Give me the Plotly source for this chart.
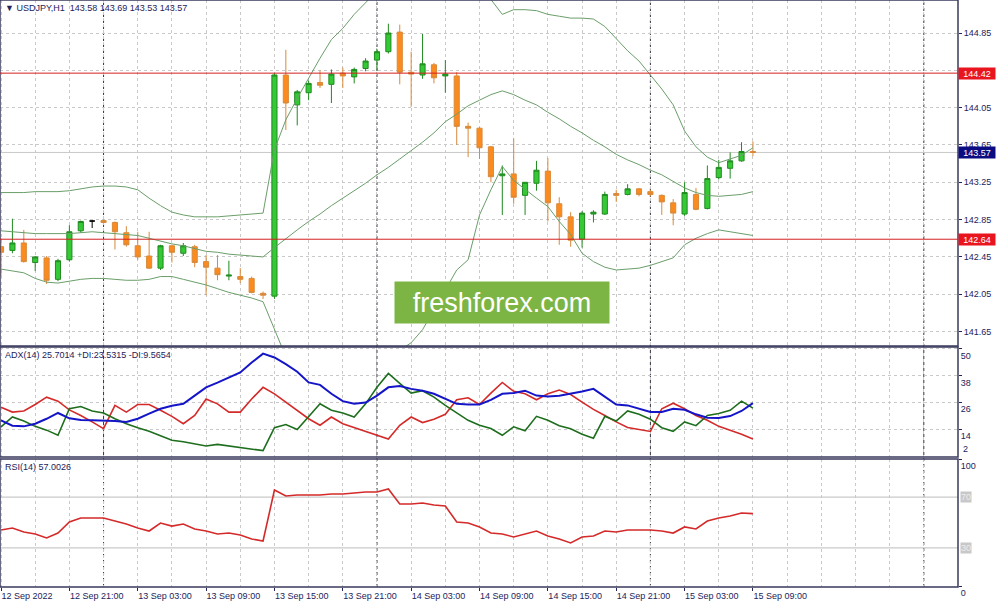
import plotly.graph_objects as go

# ---------------- data ----------------
bar_time_labels = ["12 Sep 2022", "12 Sep 21:00", "13 Sep 03:00", "13 Sep 09:00", "13 Sep 15:00",
                   "13 Sep 21:00", "14 Sep 03:00", "14 Sep 09:00", "14 Sep 15:00", "14 Sep 21:00",
                   "15 Sep 03:00", "15 Sep 09:00"]

open_ = [142.56, 142.52, 142.60, 142.39, 142.44, 142.21, 142.42, 142.73, 142.835, 142.84,
         142.82, 142.71, 142.57, 142.46, 142.33, 142.57, 142.49, 142.56, 142.40, 142.33,
         142.245, 142.24, 142.22, 142.06, 142.03, 144.40, 144.08, 144.21, 144.32, 144.30,
         144.42, 144.38, 144.47, 144.56, 144.65, 144.86, 144.43, 144.40, 144.51, 144.39,
         144.39, 143.85, 143.83, 143.63, 143.32, 143.34, 143.11, 143.24, 143.37, 143.02,
         142.88, 142.64, 142.91, 142.91, 143.13, 143.12, 143.18, 143.15, 143.11, 143.03,
         142.91, 143.12, 142.97, 143.30, 143.40, 143.48, 143.58]
high = [142.65, 142.86, 142.74, 142.46, 142.46, 142.43, 142.79, 142.84, 142.84, 142.85,
        142.83, 142.78, 142.72, 142.72, 142.58, 142.58, 142.60, 142.58, 142.47, 142.47,
        142.41, 142.33, 142.24, 142.08, 144.42, 144.67, 144.24, 144.34, 144.45, 144.46,
        144.48, 144.48, 144.58, 144.68, 144.95, 144.94, 144.65, 144.84, 144.53, 144.56,
        144.43, 143.89, 143.84, 143.64, 143.43, 143.72, 143.25, 143.48, 143.51, 143.09,
        142.93, 142.94, 142.95, 143.15, 143.17, 143.23, 143.19, 143.17, 143.12, 143.07,
        143.25, 143.19, 143.43, 143.49, 143.57, 143.68, 143.69]
low = [142.24, 142.49, 142.39, 142.30, 142.16, 142.19, 142.40, 142.71, 142.76, 142.81,
       142.53, 142.56, 142.42, 142.32, 142.31, 142.39, 142.46, 142.34, 142.04, 142.20,
       142.20, 142.17, 142.06, 142.00, 142.00, 143.81, 143.86, 144.13, 144.26, 144.10,
       144.26, 144.31, 144.44, 144.45, 144.63, 144.30, 144.06, 144.36, 144.31, 144.21,
       143.65, 143.52, 143.50, 143.25, 142.90, 143.02, 142.90, 143.16, 142.83, 142.58,
       142.56, 142.55, 142.82, 142.90, 143.04, 143.11, 143.10, 143.10, 142.90, 142.79,
       142.89, 142.95, 142.96, 143.28, 143.29, 143.47, 143.53]
close = [142.50, 142.60, 142.40, 142.45, 142.20, 142.41, 142.72, 142.83, 142.835, 142.82,
         142.72, 142.58, 142.45, 142.33, 142.57, 142.50, 142.57, 142.39, 142.34, 142.26,
         142.255, 142.21, 142.07, 142.04, 144.40, 144.10, 144.22, 144.31, 144.29, 144.41,
         144.39, 144.46, 144.55, 144.65, 144.85, 144.43, 144.41, 144.52, 144.37, 144.41,
         143.85, 143.83, 143.62, 143.31, 143.34, 143.09, 143.25, 143.38, 143.03, 142.88,
         142.63, 142.92, 142.93, 143.12, 143.11, 143.18, 143.12, 143.12, 143.04, 142.92,
         143.14, 142.96, 143.29, 143.41, 143.48, 143.58, 143.57]
black_doji_index = [8]

bb_upper = [143.14, 143.14, 143.14, 143.15, 143.15, 143.15, 143.16, 143.18, 143.20, 143.21,
            143.21, 143.20, 143.17, 143.08, 143.00, 142.93, 142.90, 142.88, 142.88, 142.88,
            142.89, 142.90, 142.91, 142.92, 143.60, 143.92, 144.15, 144.37, 144.58, 144.78,
            144.90, 145.05, 145.18, 145.30, 145.40, 145.55, 145.65, 145.70, 145.72, 145.75,
            145.80, 145.72, 145.36, 145.21, 145.05, 145.10, 145.10, 145.09, 145.05, 145.03,
            145.01, 145.01, 145.00, 144.92, 144.79, 144.66, 144.55, 144.40, 144.25, 144.08,
            143.80, 143.63, 143.52, 143.46, 143.50, 143.54, 143.62]
bb_middle = [142.73, 142.72, 142.71, 142.70, 142.70, 142.70, 142.70, 142.71, 142.72, 142.71,
             142.70, 142.69, 142.68, 142.65, 142.62, 142.59, 142.57, 142.54, 142.51, 142.50,
             142.48, 142.47, 142.46, 142.45, 142.55, 142.65, 142.74, 142.83, 142.91, 143.00,
             143.08, 143.16, 143.24, 143.33, 143.41, 143.50, 143.59, 143.68, 143.78, 143.90,
             143.98, 144.07, 144.13, 144.19, 144.23, 144.19, 144.13, 144.08, 144.00, 143.93,
             143.85, 143.78, 143.70, 143.63, 143.55, 143.49, 143.44, 143.38, 143.33, 143.26,
             143.19, 143.14, 143.11, 143.10, 143.11, 143.12, 143.15]
bb_lower = [142.32, 142.30, 142.28, 142.22, 142.18, 142.17, 142.19, 142.21, 142.22, 142.22,
            142.21, 142.20, 142.20, 142.21, 142.24, 142.24, 142.21, 142.18, 142.15, 142.11,
            142.07, 142.04, 142.01, 141.97, 141.67, 141.38, 141.33, 141.29, 141.24, 141.22,
            141.26, 141.27, 141.30, 141.36, 141.42, 141.45, 141.53, 141.67, 141.88, 142.10,
            142.31, 142.42, 142.90, 143.17, 143.42, 143.27, 143.17, 143.08, 142.99, 142.83,
            142.69, 142.49, 142.40, 142.34, 142.31, 142.32, 142.33, 142.36, 142.40, 142.44,
            142.58, 142.65, 142.70, 142.74, 142.72, 142.70, 142.68]

adx_main = [18.0, 15.6, 15.3, 16.5, 18.7, 21.3, 18.9, 18.2, 18.0, 18.0,
            17.7, 17.3, 18.7, 21.0, 23.2, 24.5, 25.4, 29.1, 32.8, 34.9,
            37.3, 39.5, 43.9, 47.9, 46.2, 43.2, 39.8, 35.0, 33.9, 29.9,
            26.6, 25.4, 26.0, 29.1, 32.8, 33.4, 32.1, 31.3, 29.9, 27.6,
            25.4, 25.1, 25.1, 27.2, 29.9, 30.3, 31.3, 29.1, 28.7, 29.0,
            29.9, 30.9, 32.1, 28.7, 25.1, 24.7, 23.2, 21.7, 21.7, 23.2,
            22.7, 20.7, 19.2, 19.0, 19.9, 22.2, 25.7]
plus_di = [15.1, 19.5, 17.7, 15.3, 13.6, 11.3, 23.2, 24.2, 22.2, 21.3,
           18.7, 16.5, 14.7, 13.1, 11.1, 9.1, 8.4, 7.6, 6.5, 7.2,
           6.5, 5.9, 5.1, 4.4, 14.7, 16.1, 13.9, 19.5, 25.4, 22.5,
           21.3, 19.5, 25.4, 32.8, 39.0, 34.6, 30.2, 31.3, 28.4, 24.7,
           21.3, 18.0, 15.8, 14.3, 11.3, 15.1, 13.3, 19.8, 18.0, 15.6,
           14.2, 11.8, 10.0, 19.8, 17.7, 22.2, 20.7, 18.5, 14.7, 13.1,
           17.3, 15.6, 20.2, 21.1, 22.5, 26.6, 23.5]
minus_di = [23.9, 21.7, 22.2, 25.1, 28.4, 26.6, 22.7, 20.2, 17.3, 14.3,
            24.7, 21.7, 25.1, 25.1, 22.5, 19.8, 16.5, 20.2, 27.6, 25.4,
            21.7, 21.7, 27.6, 32.8, 29.9, 26.2, 22.2, 18.7, 15.8, 19.5,
            16.5, 14.8, 12.8, 11.3, 9.6, 15.8, 19.5, 17.0, 18.5, 20.7,
            27.2, 28.1, 25.1, 30.2, 35.0, 31.0, 29.9, 27.2, 29.9, 31.6,
            29.6, 26.2, 22.9, 20.2, 17.3, 14.8, 13.9, 13.0, 23.2, 25.7,
            23.2, 20.2, 18.0, 15.3, 13.6, 11.8, 9.6]

rsi = [44.1, 45.7, 42.5, 40.9, 37.8, 41.7, 50.4, 53.5, 53.5, 53.5,
       51.2, 48.8, 45.7, 43.3, 49.6, 47.2, 48.8, 44.9, 43.3, 40.9,
       41.7, 40.2, 37.0, 35.4, 75.6, 70.9, 71.7, 71.7, 71.7, 72.4,
       72.4, 73.2, 74.0, 74.0, 76.4, 64.6, 64.6, 65.4, 63.8, 63.0,
       50.4, 49.6, 46.5, 41.7, 40.9, 38.6, 40.9, 43.3, 39.4, 37.0,
       33.9, 38.6, 39.4, 43.3, 42.5, 44.1, 44.1, 44.1, 43.3, 41.7,
       46.5, 44.9, 51.2, 53.5, 55.1, 57.5, 57.0]

price_ticks = [141.65, 142.05, 142.45, 142.85, 143.25, 143.65, 144.05, 144.45, 144.85]
hlines = [144.42, 142.64]
bid_price = 143.57
adx_ticks = [14, 26, 38, 50]
rsi_levels = [70, 30]
header_main = "USDJPY,H1  143.58 143.69 143.53 143.57"
header_adx = "ADX(14) 25.7014 +DI:23.5315 -DI:9.5654"
header_rsi = "RSI(14) 57.0026"
watermark = "freshforex.com"

# ---------------- layout helpers ----------------
W, H = 1000, 602
PLOT_W, PLOT_H = 958, 587
def py(p):  # pixel row -> paper y
    return 1 - p / PLOT_H
def pxp(p):  # pixel col -> paper x
    return p / PLOT_W

n = len(close)
xs = list(range(n))
reg = [i for i in xs if i not in black_doji_index]

TXT = "#23235a"
FRAME = "#3a3a5e"
GRID = "#c9c9c9"
FONT = "Liberation Sans, Arial, sans-serif"

fig = go.Figure()

for arr in (bb_upper, bb_middle, bb_lower):
    fig.add_trace(go.Scatter(x=xs, y=arr, mode="lines", line=dict(color="#6a9e6a", width=1),
                             xaxis="x", yaxis="y", hoverinfo="skip", showlegend=False))

fig.add_trace(go.Candlestick(
    x=reg, open=[open_[i] for i in reg], high=[high[i] for i in reg],
    low=[low[i] for i in reg], close=[close[i] for i in reg],
    increasing=dict(fillcolor="#36c936", line=dict(color="#1f8a1f", width=1)),
    decreasing=dict(fillcolor="#fb8b1e", line=dict(color="#d98a3a", width=1)),
    whiskerwidth=0, xaxis="x", yaxis="y", showlegend=False))
fig.add_trace(go.Candlestick(
    x=black_doji_index, open=[open_[i] for i in black_doji_index],
    high=[high[i] for i in black_doji_index], low=[low[i] for i in black_doji_index],
    close=[close[i] for i in black_doji_index],
    increasing=dict(fillcolor="#000000", line=dict(color="#000000", width=1)),
    decreasing=dict(fillcolor="#000000", line=dict(color="#000000", width=1)),
    whiskerwidth=0, xaxis="x", yaxis="y", showlegend=False))

fig.add_trace(go.Scatter(x=xs, y=minus_di, mode="lines", line=dict(color="#d42a2a", width=1.6),
                         xaxis="x2", yaxis="y2", showlegend=False))
fig.add_trace(go.Scatter(x=xs, y=plus_di, mode="lines", line=dict(color="#1d6e1d", width=1.6),
                         xaxis="x2", yaxis="y2", showlegend=False))
fig.add_trace(go.Scatter(x=xs, y=adx_main, mode="lines", line=dict(color="#1515c8", width=2),
                         xaxis="x2", yaxis="y2", showlegend=False))
fig.add_trace(go.Scatter(x=xs, y=rsi, mode="lines", line=dict(color="#d42a2a", width=1.6),
                         xaxis="x3", yaxis="y3", showlegend=False))

xr = [-0.09, 84.0]
xcommon = dict(range=xr, showgrid=True, gridcolor=GRID, griddash="dot", gridwidth=1,
               tickvals=list(range(0, 67, 6)), zeroline=False, showline=False,
               minor=dict(dtick=3, tick0=0, showgrid=True, gridcolor=GRID, griddash="dot"))

main_dom = [py(346), 1]
adx_dom = [py(457), py(347)]
rsi_dom = [0, py(459)]

adx_lo = 2 - (457 - 456) / 2.25
adx_hi = 50 + (348 - 346) / 2.25
rsi_lo = 0 - (587 - 586) / 1.27
rsi_hi = 100

fig.update_layout(
    width=W, height=H, margin=dict(l=0, r=W - PLOT_W, t=0, b=H - PLOT_H),
    paper_bgcolor="white", plot_bgcolor="white", showlegend=False,
    font=dict(family=FONT, size=9, color=TXT),
    boxgap=0.36,
    xaxis=dict(**xcommon, anchor="y", domain=[0, 1], showticklabels=False, ticks="",
               rangeslider=dict(visible=False)),
    xaxis2=dict(**xcommon, anchor="y2", domain=[0, 1], matches="x", showticklabels=False, ticks=""),
    xaxis3=dict(**xcommon, anchor="y3", domain=[0, 1], matches="x",
                ticktext=bar_time_labels, ticks="outside", ticklen=3, tickcolor=TXT,
                ticklabelposition="outside right", tickfont=dict(size=9, color=TXT)),
    yaxis=dict(domain=main_dom, range=[145.204 - 346 / 93.3, 145.204], side="right",
               tickvals=price_ticks, ticktext=[f"{v:.2f}" for v in price_ticks],
               showgrid=True, gridcolor=GRID, griddash="dot", zeroline=False,
               ticks="outside", ticklen=3, tickcolor=TXT, showline=False),
    yaxis2=dict(domain=adx_dom, range=[adx_lo, adx_hi], side="right", anchor="x2",
                tickvals=adx_ticks, ticklabelposition="outside bottom",
                showgrid=True, gridcolor=GRID, griddash="dot", zeroline=False,
                ticks="outside", ticklen=3, tickcolor=TXT),
    yaxis3=dict(domain=rsi_dom, range=[rsi_lo, rsi_hi], side="right", anchor="x3",
                tickvals=[0, 100], ticklabelposition="outside bottom",
                showgrid=False, zeroline=False, ticks="outside", ticklen=3, tickcolor=TXT),
)

shapes = []
for top, bot in ((0, 346), (347, 457), (459, 587)):
    shapes.append(dict(type="rect", xref="paper", yref="paper", x0=0, x1=1, y0=py(bot), y1=py(top),
                       line=dict(color=FRAME, width=1.5), fillcolor="rgba(0,0,0,0)", layer="above"))
for d in (9, 33, 57, 81):
    shapes.append(dict(type="line", xref="x", yref="paper", x0=d, x1=d, y0=0, y1=1,
                       line=dict(color="#333344", width=1, dash="dot"), layer="below"))
for h in hlines:
    shapes.append(dict(type="line", xref="paper", yref="y", x0=0, x1=1, y0=h, y1=h,
                       line=dict(color="#d42020", width=1)))
shapes.append(dict(type="line", xref="paper", yref="y", x0=0, x1=1, y0=bid_price, y1=bid_price,
                   line=dict(color="#c8c8c8", width=1), layer="below"))
for lv in rsi_levels:
    shapes.append(dict(type="line", xref="paper", yref="y3", x0=0, x1=1, y0=lv, y1=lv,
                       line=dict(color="#bdbdbd", width=1), layer="below"))
fig.update_layout(shapes=shapes)

ann = []
ann.append(dict(text="▼ " + header_main, xref="paper", yref="paper", x=pxp(3), y=py(1),
                xanchor="left", yanchor="top", showarrow=False, font=dict(size=9, color=TXT)))
ann.append(dict(text=header_adx, xref="paper", yref="paper", x=pxp(3), y=py(348),
                xanchor="left", yanchor="top", showarrow=False, font=dict(size=9, color=TXT)))
ann.append(dict(text=header_rsi, xref="paper", yref="paper", x=pxp(3), y=py(460),
                xanchor="left", yanchor="top", showarrow=False, font=dict(size=9, color=TXT)))
ann.append(dict(text="2", xref="paper", yref="y2", x=1, y=2, xanchor="left", yanchor="bottom",
                xshift=3, showarrow=False, font=dict(size=9, color=TXT)))
for h in hlines:
    ann.append(dict(text=f"{h:.2f}", xref="paper", yref="y", x=1, y=h, xanchor="left", yanchor="middle",
                    showarrow=False, bgcolor="#e8141e", width=36, height=11, borderpad=0,
                    font=dict(size=9, color="white")))
ann.append(dict(text=f"{bid_price:.2f}", xref="paper", yref="y", x=1, y=bid_price, xanchor="left",
                yanchor="middle", showarrow=False, bgcolor="#0c0c82", width=36, height=11, borderpad=0,
                font=dict(size=9, color="white")))
for lv in rsi_levels:
    ann.append(dict(text=str(lv), xref="paper", yref="y3", x=1, y=lv, xanchor="left", yanchor="middle",
                    xshift=2, showarrow=False, bgcolor="#c8c8c8", font=dict(size=9, color="#eeeeee"),
                    borderpad=0))
ann.append(dict(text=watermark, xref="paper", yref="paper", x=pxp(502), y=py(302.5),
                xanchor="center", yanchor="middle", showarrow=False, bgcolor="#7db544",
                width=212, height=39, font=dict(size=27, color="white", family="Liberation Sans, Arial")))
fig.update_layout(annotations=ann)

fig.write_html("out.html", config={"displayModeBar": False},
               post_script="document.body.style.margin='0';document.body.style.overflow='hidden';")
